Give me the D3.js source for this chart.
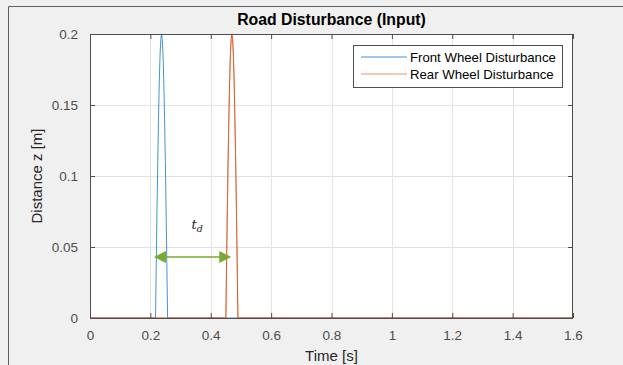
<!DOCTYPE html>
<html><head><meta charset="utf-8">
<script src="https://cdn.jsdelivr.net/npm/d3@7"></script>
<style>body{margin:0;background:#f0f0f0;} svg{display:block;}</style>
</head><body>
<svg id="c" width="623" height="365"></svg>
<script>
// Data
const xTicks = [0, 0.2, 0.4, 0.6, 0.8, 1, 1.2, 1.4, 1.6];
const yTicks = [0, 0.05, 0.1, 0.15, 0.2];
const frontT = [0, 0.217, 0.2195, 0.222, 0.2245, 0.227, 0.2295, 0.232, 0.2345, 0.237, 0.2395, 0.242, 0.2445, 0.247, 0.2495, 0.252, 0.2545, 0.257, 1.6];
const frontZ = [0, 0, 0.039, 0.077, 0.111, 0.141, 0.166, 0.185, 0.196, 0.200, 0.196, 0.185, 0.166, 0.141, 0.111, 0.077, 0.039, 0, 0];
const rearT  = [0, 0.450, 0.4525, 0.455, 0.4575, 0.460, 0.4625, 0.465, 0.4675, 0.470, 0.4725, 0.475, 0.4775, 0.480, 0.4825, 0.485, 0.4875, 0.490, 1.6];
const rearZ  = [0, 0, 0.039, 0.077, 0.111, 0.141, 0.166, 0.185, 0.196, 0.200, 0.196, 0.185, 0.166, 0.141, 0.111, 0.077, 0.039, 0, 0];
const seriesNames = ["Front Wheel Disturbance", "Rear Wheel Disturbance"];
const seriesColors = ["#0072bd", "#d95319"];
const arrowT = [0.212, 0.468];
const arrowZ = 0.043;
const tdLabelPos = [0.355, 0.063];

const svg = d3.select("#c");
const L = 90, R = 573, T = 34, B = 318;
const x = d3.scaleLinear().domain([0, 1.6]).range([L, R]);
const y = d3.scaleLinear().domain([0, 0.2]).range([B, T]);
const FONT = "Liberation Sans, Arial, sans-serif";

// figure frame (top & left edges)
svg.append("path").attr("d", "M8.5,365 V6.5 H623").attr("fill", "none").attr("stroke", "#606060").attr("stroke-width", 1);

// plot background
svg.append("rect").attr("x", L).attr("y", T).attr("width", R - L).attr("height", B - T).attr("fill", "#fff");

// grid
const g = svg.append("g");
g.selectAll(".gx").data(xTicks.slice(1, -1)).join("line")
  .attr("x1", d => Math.round(x(d)) + 0.5).attr("x2", d => Math.round(x(d)) + 0.5)
  .attr("y1", T).attr("y2", B).attr("stroke", "#e3e3e3").attr("stroke-width", 1);
g.selectAll(".gy").data(yTicks.slice(1, -1)).join("line")
  .attr("y1", d => Math.round(y(d)) + 0.5).attr("y2", d => Math.round(y(d)) + 0.5)
  .attr("x1", L).attr("x2", R).attr("stroke", "#e3e3e3").attr("stroke-width", 1);

// lines
const line = d3.line().x(d => x(d[0])).y(d => y(d[1]));
const dataF = frontT.map((t, i) => [t, frontZ[i]]);
const dataR = rearT.map((t, i) => [t, rearZ[i]]);
svg.append("clipPath").attr("id", "cp").append("rect").attr("x", L).attr("y", T - 1).attr("width", R - L).attr("height", B - T + 1);
const lg = svg.append("g").attr("clip-path", "url(#cp)");
lg.append("path").datum(dataF).attr("d", line).attr("fill", "none").attr("stroke", seriesColors[0]).attr("stroke-width", 1).attr("opacity", 0.75);
lg.append("path").datum(dataR).attr("d", line).attr("fill", "none").attr("stroke", seriesColors[1]).attr("stroke-width", 1).attr("opacity", 0.8);

// axes box and ticks
const xAxisTop = d3.axisTop(x).tickValues(xTicks).tickSize(-5).tickFormat("");
const xAxisB = d3.axisBottom(x).tickValues(xTicks).tickSize(-5).tickPadding(12).tickFormat(d3.format("~g"));
const yAxisL = d3.axisLeft(y).tickValues(yTicks).tickSize(-5).tickPadding(12).tickFormat(d3.format("~g"));
const yAxisR = d3.axisRight(y).tickValues(yTicks).tickSize(-5).tickFormat("");
function style(sel) {
  sel.selectAll("path.domain").attr("stroke", "#4d4d4d");
  sel.selectAll(".tick line").attr("stroke", "#4d4d4d");
  sel.selectAll("text").attr("fill", "#4d4d4d").attr("font-family", FONT).attr("font-size", 13.5);
}
svg.append("g").attr("transform", `translate(0,${T})`).call(xAxisTop).call(style).call(s => s.select(".domain").attr("d", `M${L},0.5H${R}`));
svg.append("g").attr("transform", `translate(0,${B})`).call(xAxisB).call(style).call(s => s.select(".domain").attr("d", `M${L},0.5H${R}`));
svg.append("g").attr("transform", `translate(${L},0)`).call(yAxisL).call(style).call(s => s.select(".domain").attr("d", `M0.5,${T}V${B}`));
svg.append("g").attr("transform", `translate(${R},0)`).call(yAxisR).call(style).call(s => s.select(".domain").attr("d", `M-0.5,${T}V${B}`));

// redraw rear series over bottom axis
lg.append("path").datum(dataR).attr("d", line).attr("fill", "none").attr("stroke", seriesColors[1]).attr("stroke-width", 1).attr("opacity", 0.6);

// arrow
const green = "#77ac30";
const ax1 = x(arrowT[0]), ax2 = x(arrowT[1]), ay = y(arrowZ);
svg.append("line").attr("x1", ax1 + 10).attr("x2", ax2 - 10).attr("y1", ay).attr("y2", ay).attr("stroke", green).attr("stroke-width", 1.5);
svg.append("path").attr("d", `M${ax1},${ay} L${ax1 + 12},${ay - 6} L${ax1 + 12},${ay + 6} Z`).attr("fill", green);
svg.append("path").attr("d", `M${ax2},${ay} L${ax2 - 12},${ay - 6} L${ax2 - 12},${ay + 6} Z`).attr("fill", green);
const td = svg.append("text").attr("x", x(tdLabelPos[0])).attr("y", y(tdLabelPos[1]))
  .attr("text-anchor", "middle").attr("font-family", "DejaVu Serif, serif").attr("font-style", "italic").attr("font-size", 13).attr("fill", "#222");
td.append("tspan").text("t");
td.append("tspan").attr("font-size", 9.5).attr("dy", 3).text("d");

// title
svg.append("text").attr("x", (L + R) / 2).attr("y", 25).attr("text-anchor", "middle")
  .attr("font-family", FONT).attr("font-weight", "bold").attr("font-size", 15.8).attr("fill", "#000")
  .text("Road Disturbance (Input)");

// axis labels
svg.append("text").attr("x", (L + R) / 2).attr("y", 361).attr("text-anchor", "middle")
  .attr("font-family", FONT).attr("font-size", 15).attr("fill", "#262626").text("Time [s]");
svg.append("text").attr("transform", `translate(42,${(T + B) / 2}) rotate(-90)`).attr("text-anchor", "middle")
  .attr("font-family", FONT).attr("font-size", 15).attr("fill", "#262626").text("Distance z [m]");

// legend
const lx = 353, ly = 45, lw = 209, lh = 42;
svg.append("rect").attr("x", lx + 0.5).attr("y", ly + 0.5).attr("width", lw).attr("height", lh).attr("fill", "#fff").attr("stroke", "#4d4d4d").attr("stroke-width", 1);
seriesNames.forEach((n, i) => {
  const yy = ly + 12 + i * 17;
  svg.append("line").attr("x1", lx + 8).attr("x2", lx + 54).attr("y1", yy).attr("y2", yy).attr("stroke", seriesColors[i]).attr("stroke-width", 1).attr("opacity", i ? 0.6 : 0.75);
  svg.append("text").attr("x", lx + 57).attr("y", yy + 4.5).attr("font-family", FONT).attr("font-size", 13.2).attr("fill", "#000").text(n);
});
</script>
</body></html>
